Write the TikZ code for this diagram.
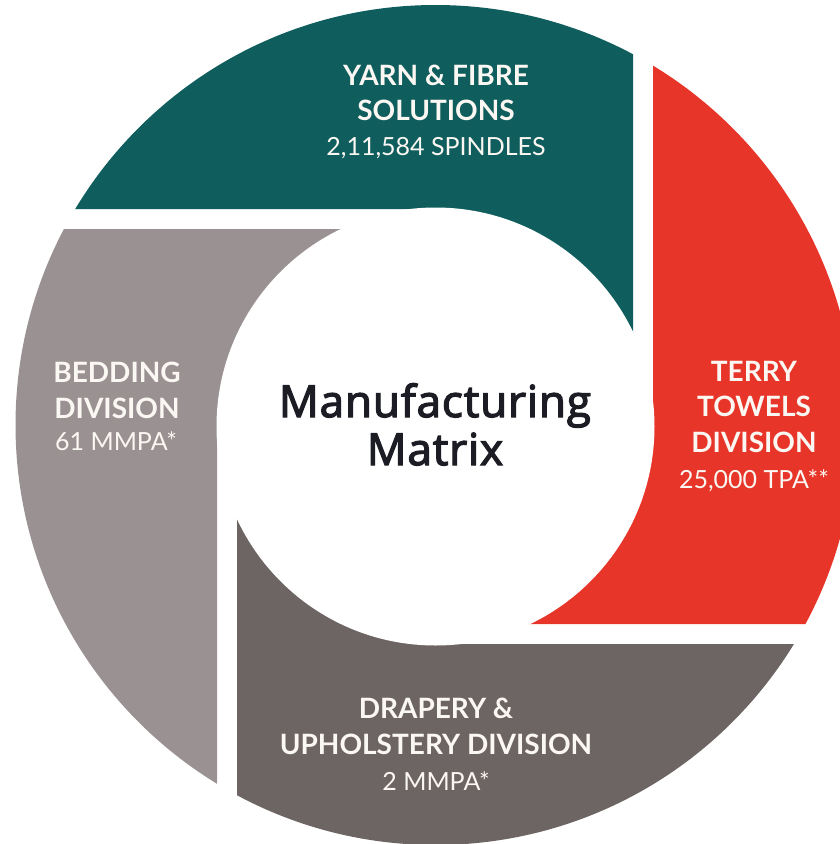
\documentclass[tikz,border=0pt]{standalone}
\usepackage{fontspec}
\setmainfont{Lato}
\newfontfamily\centerfont{Open Sans}[FakeBold=3, LetterSpace=2]
\definecolor{bladeteal}{HTML}{0F5D5D}
\definecolor{bladered}{HTML}{E8352A}
\definecolor{bladebed}{HTML}{9A9292}
\definecolor{bladedrap}{HTML}{6D6563}
\definecolor{labtxt}{HTML}{FBF7F2}
\definecolor{ctrtxt}{HTML}{1C1C24}
\tikzset{
  lbl/.style={text=labtxt, font=\bfseries\fontsize{28}{28}\selectfont, anchor=base, inner sep=0pt},
  sublbl/.style={text=labtxt, font=\fontsize{25}{25}\selectfont, anchor=base, inner sep=0pt},
  ctrlbl/.style={text=ctrtxt, font=\centerfont\fontsize{44}{44}\selectfont, anchor=base, inner sep=0pt}
}
\begin{document}
\begin{tikzpicture}[x=1pt,y=-1pt]
\useasboundingbox (0,0) rectangle (840,844);
\clip (0,0) rectangle (840,844);
\coordinate (C) at (435.5,425);
\begin{scope}
  \clip (C) circle (420pt);
  \fill[bladeteal] (-10,-10) -- (-10,209) -- (435.5,209) -- (435.5,425) -- (633,425) -- (633,-10) -- cycle;
  \fill[bladered] (653,-10) -- (860,-10) -- (860,624) -- (435.5,624) -- (435.5,425) -- (653,425) -- cycle;
  \fill[bladedrap] (237,425) -- (435.5,425) -- (435.5,644) -- (860,644) -- (860,860) -- (237,860) -- cycle;
  \fill[bladebed] (-10,229) -- (435.5,229) -- (435.5,425) -- (217,425) -- (217,860) -- (-10,860) -- cycle;
\end{scope}
\fill[white] (435.5,426.5) circle (219pt);

% centre
\node[ctrlbl] (ctr1) at (435,417) {Manufacturing};
\node[ctrlbl] (ctr2) at (435,465) {Matrix};

% yarn & fibre
\node[lbl] (yarn1) at (436,85) {YARN \& FIBRE};
\node[lbl] (yarn2) at (436,120) {SOLUTIONS};
\node[sublbl] (yarn3) at (436,155) {2,11,584 SPINDLES};

% bedding
\node[lbl] (bed1) at (117,382) {BEDDING};
\node[lbl] (bed2) at (117,418) {DIVISION};
\node[sublbl] (bed3) at (116,450) {61 MMPA*};

% terry towels
\node[lbl] (ter1) at (754,381) {TERRY};
\node[lbl] (ter2) at (754,416) {TOWELS};
\node[lbl] (ter3) at (754,452) {DIVISION};
\node[sublbl] (ter4) at (754,488) {25,000 TPA**};

% drapery
\node[lbl] (drp1) at (436,718) {DRAPERY \&};
\node[lbl] (drp2) at (436,754) {UPHOLSTERY DIVISION};
\node[sublbl] (drp3) at (436,790) {2 MMPA*};
\end{tikzpicture}
\end{document}
